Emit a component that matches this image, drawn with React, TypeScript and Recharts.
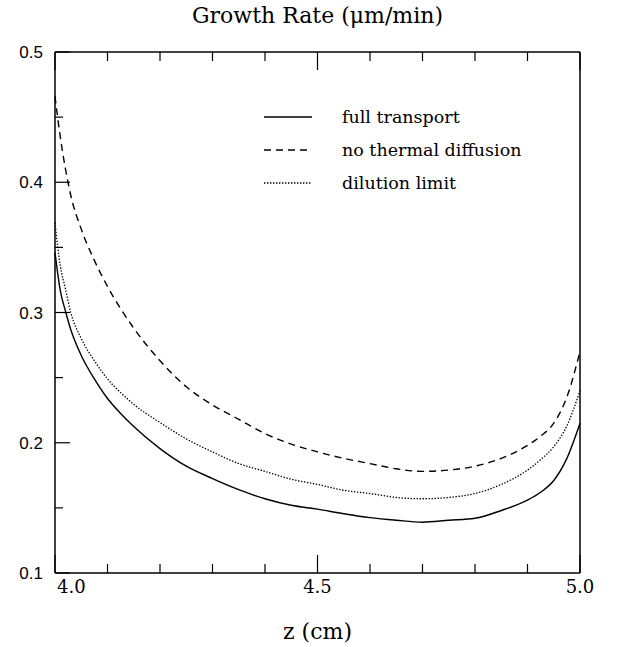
import React from 'react';
import { LineChart, Line, XAxis, YAxis, Legend } from 'recharts';

const zValues = [4.0, 4.01, 4.02, 4.03, 4.05, 4.075, 4.1, 4.125, 4.15, 4.2, 4.25, 4.3, 4.35, 4.4, 4.45, 4.5, 4.55, 4.6, 4.65, 4.7, 4.75, 4.8, 4.85, 4.9, 4.925, 4.95, 4.975, 5.0];
const fullTransport = [0.346, 0.317, 0.301, 0.287, 0.267, 0.249, 0.234, 0.2225, 0.2125, 0.1955, 0.182, 0.1725, 0.164, 0.157, 0.152, 0.149, 0.1455, 0.1425, 0.1405, 0.139, 0.1405, 0.142, 0.148, 0.156, 0.162, 0.171, 0.188, 0.215];
const noThermalDiffusion = [0.466, 0.435, 0.41, 0.39, 0.364, 0.34, 0.32, 0.303, 0.288, 0.263, 0.243, 0.229, 0.218, 0.207, 0.199, 0.193, 0.188, 0.184, 0.18, 0.178, 0.179, 0.182, 0.188, 0.198, 0.205, 0.215, 0.235, 0.27];
const dilutionLimit = [0.369, 0.336, 0.318, 0.3, 0.28, 0.263, 0.249, 0.2385, 0.2295, 0.2155, 0.203, 0.193, 0.184, 0.178, 0.172, 0.168, 0.1635, 0.161, 0.158, 0.157, 0.158, 0.161, 0.168, 0.179, 0.187, 0.197, 0.213, 0.24];
const seriesNames = ['full transport', 'no thermal diffusion', 'dilution limit'];
const xTicks = [4.0, 4.1, 4.2, 4.3, 4.4, 4.5, 4.6, 4.7, 4.8, 4.9, 5.0];
const xMajorTicks = [4.0, 4.5, 5.0];
const yTicks = [0.1, 0.15, 0.2, 0.25, 0.3, 0.35, 0.4, 0.45, 0.5];
const yMajorTicks = [0.1, 0.2, 0.3, 0.4, 0.5];
const chartTitle = 'Growth Rate (\u03bcm/min)';
const xTitle = 'z (cm)';

const data = zValues.map((z, i) => ({
  z,
  full: fullTransport[i],
  noThermal: noThermalDiffusion[i],
  dilution: dilutionLimit[i],
}));

const seriesStyles = [
  { key: 'full', dash: undefined as string | undefined, width: 1.4 },
  { key: 'noThermal', dash: '7 5', width: 1.4 },
  { key: 'dilution', dash: '1.4 1.6', width: 1.3 },
];

const isIn = (v: number, arr: number[]) => arr.some((a) => Math.abs(a - v) < 1e-6);
const SERIF = '"DejaVu Serif", serif';
const SANS = '"Liberation Sans", Arial, sans-serif';
const X_MINOR = 9;
const X_MAJOR = 18;
const Y_MINOR = 8;
const Y_MAJOR = 15;

// native tick lines draw the minor length inward; majors get an extra segment
const BottomTick = (props: any) => {
  const { x, y, payload } = props;
  const v = payload.value as number;
  const major = isIn(v, xMajorTicks);
  const first = Math.abs(v - xTicks[0]) < 1e-6;
  return (
    <g>
      {major ? <line x1={x} y1={y - X_MINOR} x2={x} y2={y - X_MAJOR} stroke="#000" strokeWidth={1.2} /> : null}
      {major ? (
        <text x={first ? x + 2 : x} y={y + 20} textAnchor={first ? 'start' : 'middle'} fontFamily={SERIF} fontSize={18} fill="#000">
          {v.toFixed(1)}
        </text>
      ) : null}
    </g>
  );
};

const TopTick = (props: any) => {
  const { x, y, payload } = props;
  const major = isIn(payload.value as number, xMajorTicks);
  return <g>{major ? <line x1={x} y1={y + X_MINOR} x2={x} y2={y + X_MAJOR} stroke="#000" strokeWidth={1.2} /> : null}</g>;
};

const LeftTick = (props: any) => {
  const { x, y, payload } = props;
  const v = payload.value as number;
  const major = isIn(v, yMajorTicks);
  return (
    <g>
      {major ? <line x1={x + Y_MINOR} y1={y} x2={x + Y_MAJOR} y2={y} stroke="#000" strokeWidth={1.2} /> : null}
      {major ? (
        <text x={x - 12} y={y + 6} textAnchor="end" fontFamily={SANS} fontSize={17} fill="#000">
          {v.toFixed(1)}
        </text>
      ) : null}
    </g>
  );
};

const RightTick = (props: any) => {
  const { x, y, payload } = props;
  const major = isIn(payload.value as number, yMajorTicks);
  return <g>{major ? <line x1={x - Y_MINOR} y1={y} x2={x - Y_MAJOR} y2={y} stroke="#000" strokeWidth={1.2} /> : null}</g>;
};

const renderTitle = (props: any) => {
  const vb = props.viewBox;
  return (
    <text x={vb.x + vb.width / 2} y={vb.y + 23} textAnchor="middle" fontFamily={SERIF} fontSize={22} fill="#000">
      {chartTitle}
    </text>
  );
};

const renderXTitle = (props: any) => {
  const vb = props.viewBox;
  return (
    <text x={vb.x + vb.width / 2} y={vb.y + 66} textAnchor="middle" fontFamily={SERIF} fontSize={22} fill="#000">
      {xTitle}
    </text>
  );
};

const LegendContent = () => (
  <svg width={320} height={100} style={{ display: 'block' }}>
    {seriesNames.map((name, i) => (
      <g key={name}>
        <line x1={9} x2={57} y1={17 + i * 33} y2={17 + i * 33} stroke="#000" strokeWidth={seriesStyles[i].width} strokeDasharray={seriesStyles[i].dash} />
        <text x={87} y={23 + i * 33} fontFamily={SERIF} fontSize={17.5} fill="#000">
          {name}
        </text>
      </g>
    ))}
  </svg>
);

const axisLineStyle = { stroke: '#000', strokeWidth: 1.5 };
const tickLineStyle = { stroke: '#000', strokeWidth: 1.2 };

export default function App() {
  return (
    <div style={{ position: 'absolute', left: 0, top: 0, background: '#fff' }}>
      <LineChart width={619} height={647} data={data} margin={{ top: 0, right: 0, bottom: 0, left: 0 }}>
        <XAxis xAxisId="b" dataKey="z" type="number" domain={[4, 5]} ticks={xTicks} interval={0} stroke="#000" tickSize={-X_MINOR} tickMargin={X_MINOR} tickLine={tickLineStyle} axisLine={axisLineStyle} height={74} tick={BottomTick} label={renderXTitle} />
        <XAxis xAxisId="t" orientation="top" dataKey="z" type="number" domain={[4, 5]} ticks={xTicks} interval={0} stroke="#000" tickSize={-X_MINOR} tickMargin={X_MINOR} tickLine={tickLineStyle} axisLine={axisLineStyle} height={52} tick={TopTick} label={renderTitle} />
        <YAxis yAxisId="l" type="number" domain={[0.1, 0.5]} ticks={yTicks} interval={0} stroke="#000" tickSize={-Y_MINOR} tickMargin={Y_MINOR} tickLine={tickLineStyle} axisLine={axisLineStyle} width={55} tick={LeftTick} />
        <YAxis yAxisId="r" orientation="right" type="number" domain={[0.1, 0.5]} ticks={yTicks} interval={0} stroke="#000" tickSize={-Y_MINOR} tickMargin={Y_MINOR} tickLine={tickLineStyle} axisLine={axisLineStyle} width={39} tick={RightTick} />
        {seriesStyles.map((s, i) => (
          <Line key={s.key} xAxisId="b" yAxisId="l" type="monotone" dataKey={s.key} name={seriesNames[i]} stroke="#000" strokeWidth={s.width} strokeDasharray={s.dash} dot={false} activeDot={false} isAnimationActive={false} />
        ))}
        <Legend layout="vertical" align="center" verticalAlign="middle" content={LegendContent} wrapperStyle={{ position: 'absolute', left: 255, top: 100, width: 320, height: 100 }} />
      </LineChart>
    </div>
  );
}
